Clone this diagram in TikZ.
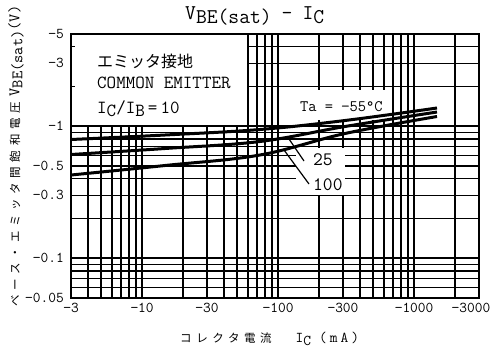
\documentclass[tikz,border=0pt]{standalone}
\usepackage{fontspec}
\newfontfamily\jpfont{Noto Sans CJK JP}
\newfontfamily\jpwide[LetterSpace=40]{Noto Sans CJK JP}

\tikzset{
	gridline/.style={line width=1.35pt},
	decline/.style={line width=2pt},
	frameline/.style={line width=2.4pt},
	vcurve/.style={line width=3pt, smooth, tension=0.6},
	leader/.style={line width=1.2pt},
	ticklbl/.style={font=\fontsize{15}{15}\ttfamily, inner sep=0pt},
	boxtxt/.style={font=\fontsize{18.5}{18.5}\ttfamily, anchor=base west, inner sep=0pt},
}

\begin{document}
\begin{tikzpicture}[x=1pt, y=-1pt,
	declare function={px(\i)=71+136*log10(\i/3); py(\v)=34+132*log10(5/\v);}]
	\useasboundingbox (0,0) rectangle (501,349);
	
	\foreach \i in {4,...,9,20,30,...,90,200,300,...,900,2000}
		\draw[gridline] ({px(\i)},34) -- ({px(\i)},298);
	\foreach \i in {10,100,1000}
		\draw[decline] ({px(\i)},34) -- ({px(\i)},298);
	\foreach \v in {0.06,0.07,0.08,0.09,0.2,0.3,0.4,0.5,0.6,0.7,0.8,0.9,2,3,4}
		\draw[gridline] (71,{py(\v)}) -- (479,{py(\v)});
	\foreach \v in {0.1,1}
		\draw[decline] (71,{py(\v)}) -- (479,{py(\v)});
	
	\fill[white] (72,35) rectangle (247.2,125.3);
	\fill[white] (297,89.5) rectangle (387,120);
	\fill[white] (296,148) rectangle (345,195);
	\draw[gridline] (71,{py(4)}) -- ++(4,0);
	\draw[gridline] (71,{py(2)}) -- ++(4,0);
	
	\draw[vcurve] plot coordinates {(71,139.5) (165,135) (260,129.5) (345,120.5) (437,108)};
	\draw[vcurve] plot coordinates {(71,154.5) (165,148.5) (260,141.5) (345,126.5) (437,112)};
	\draw[vcurve] plot coordinates {(71,175) (165,165.5) (260,155) (345,133.5) (437,116.5)};
	
	\draw[frameline] (71,34) rectangle (479,298);
	
	\node[font=\fontsize{21}{21}\ttfamily, anchor=base west, inner sep=0pt] (title) at (185,19.5)
		{V\raisebox{-4pt}{BE(sat)}\hspace{10pt}-\hspace{10pt}I\raisebox{-4pt}{C}};
	
	\node[font=\fontsize{16}{16}\jpfont, anchor=west, inner sep=0pt] (lg1) at (97,61.5) {エミッタ接地};
	\node[boxtxt] (lg2) at (97,88.5) {COMMON EMITTER};
	\node[boxtxt] (lg3) at (97,113) {I\raisebox{-3pt}{C}/I\raisebox{-3pt}{B}\,=\,10};
	
	\node[font=\fontsize{16}{16}\ttfamily, anchor=base west, inner sep=0pt] (ta) at (300,111.7) {Ta = −55°C};
	\node[font=\fontsize{19}{19}\ttfamily, anchor=base west, inner sep=0pt] (t25) at (313,165) {25};
	\node[font=\fontsize{19}{19}\ttfamily, anchor=base west, inner sep=0pt] (t100) at (313,190) {100};
	\coordinate (c25) at (289,139);
	\coordinate (e25) at (304,161);
	\coordinate (c100) at (284,150);
	\coordinate (e100) at (309,184);
	\draw[leader] (c25) -- (e25);
	\draw[leader] (c100) -- (e100);
	
	\foreach \v/\t [count=\k] in {5/−5,3/−3,1/−1,0.5/−0.5,0.3/−0.3,0.1/−0.1,0.05/−0.05}
		\node[ticklbl, anchor=east] (yl\k) at (64,{py(\v)}) {\t};
	\foreach \i/\t [count=\k] in {3/−3,10/−10,30/−30,100/−100,300/−300,1000/−1000}
		\node[ticklbl, anchor=north] (xl\k) at ({px(\i)},302.5) {\t};
	\node[ticklbl, anchor=north] (xl7) at (471,302.5) {−3000};
	
	\node[anchor=base west, inner sep=0pt] (xtitle) at (180,342)
		{{\fontsize{11.5}{11.5}\jpwide コレクタ電流}\hspace{24pt}{\fontsize{15}{15}\ttfamily I\raisebox{-3pt}{C}\hspace{8pt}(\hspace{3pt}m\hspace{3pt}A\hspace{3pt})}};
	\node[rotate=90, inner sep=0pt] (ytitle) at (16,156)
		{{\fontsize{11.5}{11.5}\jpwide ベース・エミッタ間飽和電圧}\hspace{6pt}{\fontsize{16}{16}\ttfamily V\raisebox{-3pt}{BE(sat)}(V)}};
\end{tikzpicture}
\end{document}
